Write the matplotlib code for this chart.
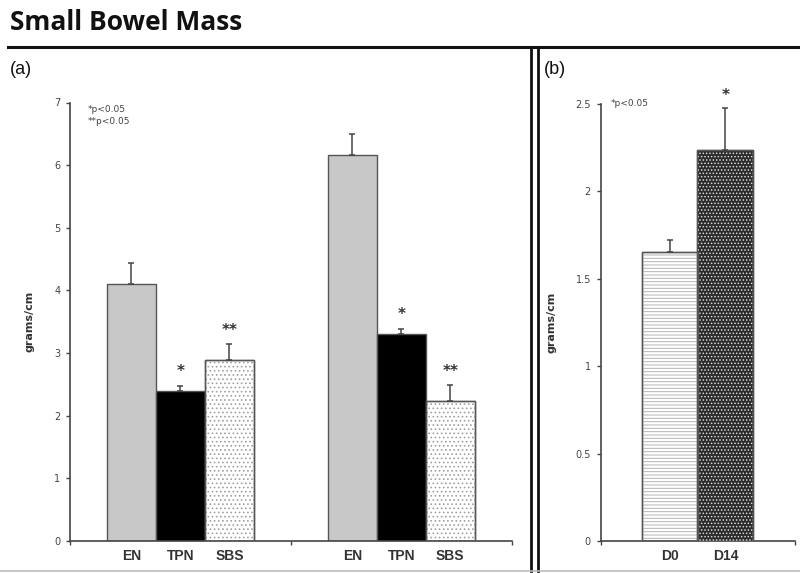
import numpy as np
import matplotlib.pyplot as plt
from matplotlib.lines import Line2D

# panel (a): two cohorts, three groups each
groups_a = ['EN', 'TPN', 'SBS']
cohort1 = [4.11, 2.40, 2.89]
cohort1_err = [0.32, 0.08, 0.25]
cohort2 = [6.16, 3.31, 2.24]
cohort2_err = [0.33, 0.08, 0.25]
stars1 = ['', '*', '**']
stars2 = ['', '*', '**']

# panel (b)
days = ['D0', 'D14']
day_vals = [1.655, 2.237]
day_err = [0.065, 0.238]
day_stars = ['', '*']

plt.rcParams['hatch.linewidth'] = 0.7

fig = plt.figure(figsize=(8, 5.73), dpi=100)

lab_col = '#333333'
tick_col = '#444444'


def hbar(ax, x, h, w, face, hatch=None, hcol=None):
    ax.bar(x, h, w, color=face, edgecolor='#555555', linewidth=1.0, zorder=2)
    if hatch:
        ax.bar(x, h, w, color='none', edgecolor=hcol, hatch=hatch, linewidth=0, zorder=3)
        ax.bar(x, h, w, color='none', edgecolor='#555555', linewidth=1.0, zorder=4)


def style(ax, ymax, step, fmt):
    for s in ['top', 'right']:
        ax.spines[s].set_visible(False)
    for s in ['left', 'bottom']:
        ax.spines[s].set_color('#444444')
        ax.spines[s].set_linewidth(1.2)
    ax.set_ylim(0, ymax)
    yt = np.arange(0, ymax + 1e-9, step)
    ax.set_yticks(yt)
    ax.set_yticklabels([fmt(v) for v in yt], fontsize=7, color=tick_col)
    ax.tick_params(axis='y', direction='out', length=3, width=1, color='#444444', pad=4)
    ax.set_ylabel('grams/cm', fontsize=8, fontweight='bold', color=lab_col, labelpad=14)


# ---- panel (a)
axa = fig.add_axes([70 / 800, 1 - 541 / 573, 441.7 / 800, 438.5 / 573])
w = 0.222
offs = np.array([-w, 0, w])
faces = ['#c8c8c8', '#000000', '#ffffff']
hatches = [None, None, '....']
xs_all = []
for ci, (vals, errs, stars) in enumerate([(cohort1, cohort1_err, stars1), (cohort2, cohort2_err, stars2)]):
    xs = ci + 0.5 + offs
    xs_all += list(xs)
    for i in range(3):
        hbar(axa, xs[i], vals[i], w, faces[i], hatches[i], '#a0a0a0')
    axa.errorbar(xs, vals, yerr=[np.zeros(3), errs], fmt='none', ecolor='#444444',
                 elinewidth=1.1, capsize=2.5, capthick=1.1, zorder=5)
    for i in range(3):
        if stars[i]:
            axa.text(xs[i], vals[i] + errs[i] + 0.1, stars[i], ha='center', va='bottom',
                     fontsize=11, color='#333333', fontweight='bold')
axa.set_xlim(0, 2)
style(axa, 7, 1, lambda v: '%d' % v)
axa.set_xticks(xs_all)
axa.set_xticklabels(groups_a * 2, fontsize=10, fontweight='bold', color=lab_col,
                    family='Liberation Sans')
axa.tick_params(axis='x', length=0, pad=6)
axa.set_xticks([0, 1, 2], minor=True)
axa.tick_params(axis='x', which='minor', length=3, width=1, color='#444444')
axa.text(0.04, 0.995, '*p<0.05\n**p<0.05', transform=axa.transAxes, fontsize=6.5,
         color='#444444', va='top', ha='left', linespacing=1.5)

# ---- panel (b)
axb = fig.add_axes([600.7 / 800, 1 - 541 / 573, 194.3 / 800, 437 / 573])
xb = [0.355, 0.642]
wb = 0.288
hbar(axb, xb[0], day_vals[0], wb, '#ffffff', '-----', '#b4b4b4')
hbar(axb, xb[1], day_vals[1], wb, '#2b2b2b', '.....', '#d8d8d8')
axb.errorbar(xb, day_vals, yerr=[np.zeros(2), day_err], fmt='none', ecolor='#444444',
             elinewidth=1.1, capsize=2.5, capthick=1.1, zorder=5)
for x, v, e, s in zip(xb, day_vals, day_err, day_stars):
    if s:
        axb.text(x, v + e + 0.03, s, ha='center', va='bottom', fontsize=11,
                 color='#333333', fontweight='bold')
axb.set_xlim(0, 1)
style(axb, 2.5, 0.5, lambda v: ('%g' % v))
axb.set_xticks(xb)
axb.set_xticklabels(days, fontsize=10, fontweight='bold', color=lab_col,
                    family='Liberation Sans')
axb.tick_params(axis='x', length=0, pad=6)
axb.set_xticks([0, 1], minor=True)
axb.tick_params(axis='x', which='minor', length=3, width=1, color='#444444')
axb.text(0.05, 1.0, '*p<0.05', transform=axb.transAxes, fontsize=6.5,
         color='#444444', va='center', ha='left')

# ---- frame, title and panel letters
fig.text(10 / 800, 1 - 22 / 573, 'Small Bowel Mass', fontsize=19, fontweight='bold',
         family='Open Sans', va='center', ha='left', color='#111111')
fig.text(10 / 800, 1 - 70 / 573, '(a)', fontsize=13, family='Liberation Sans',
         va='center', ha='left', color='#111111')
fig.text(544 / 800, 1 - 69 / 573, '(b)', fontsize=13, family='Liberation Sans',
         va='center', ha='left', color='#111111')
fig.add_artist(Line2D([8 / 800, 1], [1 - 47 / 573] * 2, color='#111111', lw=2.2,
                      transform=fig.transFigure))
for xv in [530.5, 538]:
    fig.add_artist(Line2D([xv / 800] * 2, [1 - 47 / 573, 1 - 571 / 573], color='#111111',
                          lw=2.0, transform=fig.transFigure))
fig.add_artist(Line2D([0, 1], [1 - 571 / 573] * 2, color='#bbbbbb', lw=1.2,
                      transform=fig.transFigure))

fig.savefig('out.png', dpi=100)
